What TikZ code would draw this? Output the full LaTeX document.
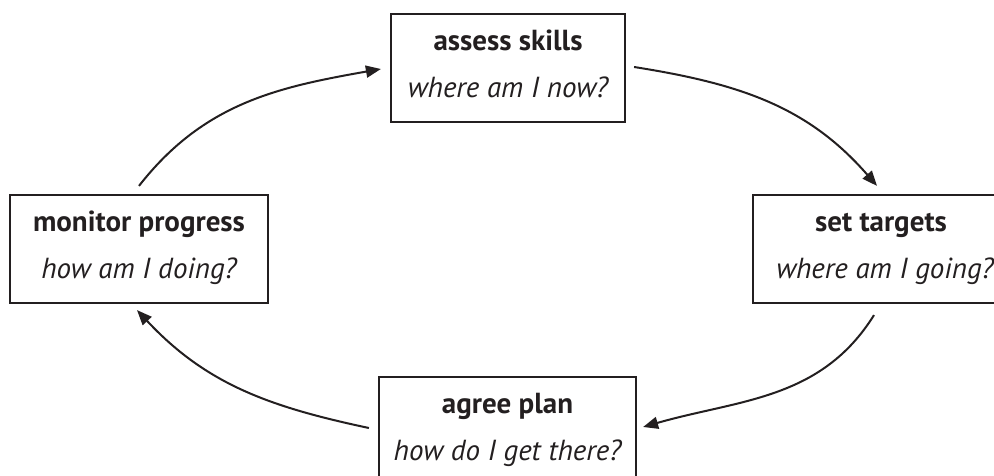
\documentclass[tikz,border=0pt]{standalone}
\usepackage{fontspec}
\setmainfont{PT Sans}
\usetikzlibrary{arrows.meta}
\definecolor{ink}{HTML}{231F20}
\begin{document}
\begin{tikzpicture}[x=1pt,y=1pt,
  box/.style={draw=ink,line width=2.2pt,minimum width=#1,minimum height=108pt,inner sep=0pt},
  box/.default=257pt,
  ttl/.style={anchor=base,inner sep=0pt,text=ink,font=\fontsize{29}{34}\selectfont\bfseries},
  sub/.style={anchor=base,inner sep=0pt,text=ink,font=\fontsize{29}{34}\selectfont\itshape},
  cyc/.style={draw=ink,line width=2pt,-{Triangle[length=15pt,width=12pt]}}]
\clip (0,0) rectangle (994,476);
% boxes
\node[box=234pt] (top) at (508,408) {};
\node[box=258pt] (mon) at (139,227) {};
\node[box=256pt] (set) at (881,227) {};
\node[box=257pt] (agr) at (507.5,45) {};
% texts
\node[ttl] (topA) at ([yshift=-38pt]top.north) {assess skills};
\node[sub] (topB) at ([yshift=-85pt]top.north) {where am I now?};
\node[ttl] (monA) at ([yshift=-38pt]mon.north) {monitor progress};
\node[sub] (monB) at ([yshift=-85pt]mon.north) {how am I doing?};
\node[ttl] (setA) at ([yshift=-38pt]set.north) {set targets};
\node[sub] (setB) at ([xshift=4pt,yshift=-85pt]set.north) {where am I going?};
\node[ttl] (agrA) at ([yshift=-38pt]agr.north) {agree plan};
\node[sub] (agrB) at ([yshift=-85pt]agr.north) {how do I get there?};
% connectors
\draw[cyc] ([yshift=8pt]mon.north) to[out=52,in=190] ([xshift=-9pt,yshift=-1pt]top.west);
\draw[cyc] ([xshift=8pt,yshift=1pt]top.east) to[out=-9,in=131] ([xshift=-4pt,yshift=8pt]set.north);
\draw[cyc] ([xshift=-7pt,yshift=-11pt]set.south) to[out=238,in=16] ([xshift=6pt,yshift=4pt]agr.east);
\draw[cyc] ([xshift=-9pt,yshift=3pt]agr.west) to[out=168,in=313] ([xshift=-2pt,yshift=-6pt]mon.south);
\end{tikzpicture}
\end{document}
